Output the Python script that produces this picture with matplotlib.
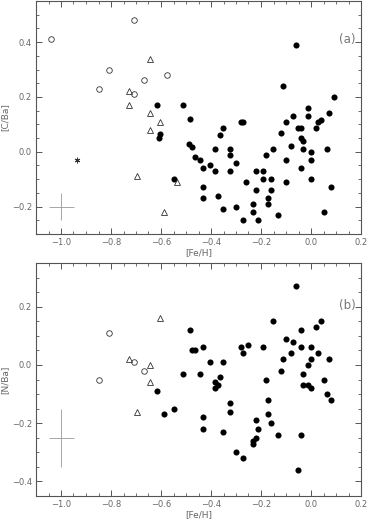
import matplotlib.pyplot as plt
from matplotlib.ticker import MultipleLocator

# panel (a): [C/Ba] vs [Fe/H]
# filled circles
fe_a_fill = [-0.618, -0.514, -0.61, -0.605, -0.548,
             -0.485, -0.354, -0.281, -0.272, -0.112, -0.061, 0.091, -0.012, -0.072, -0.012,
             -0.101, 0.071, 0.028, 0.039, -0.052, -0.041, 0.019,
             -0.365, -0.488, -0.476, -0.121, -0.042, -0.032, -0.081, 0.062, -0.385, -0.324,
             -0.152, -0.032, -0.465, -0.445, -0.324, -0.182, 0.0, 0.0, -0.101, -0.302,
             -0.404, -0.434, -0.385, -0.324, -0.222, -0.192, -0.041, -0.192, -0.161, 0.0,
             -0.262, -0.101, -0.434, 0.079, -0.222, -0.161, -0.374, -0.434, -0.172, -0.172,
             -0.232, -0.302, -0.354, -0.232, 0.051, -0.132, -0.272, -0.212]
cba_fill = [0.17, 0.17, 0.05, 0.065, -0.10,
            0.12, 0.088, 0.11, 0.11, 0.24, 0.39, 0.20, 0.16, 0.13, 0.13,
            0.11, 0.14, 0.11, 0.117, 0.088, 0.088, 0.088,
            0.06, 0.028, 0.019, 0.07, 0.05, 0.04, 0.02, 0.01, 0.01, 0.01,
            0.01, 0.01, -0.02, -0.03, -0.01, -0.01, 0.0, -0.03, -0.03, -0.04,
            -0.05, -0.06, -0.07, -0.07, -0.07, -0.07, -0.06, -0.10, -0.10, -0.10,
            -0.11, -0.11, -0.13, -0.13, -0.14, -0.14, -0.16, -0.17, -0.17, -0.19,
            -0.19, -0.20, -0.21, -0.22, -0.22, -0.23, -0.25, -0.25]
# open circles
fe_a_circ = [-1.042, -0.708, -0.809, -0.849, -0.668, -0.576, -0.708]
cba_circ = [0.41, 0.48, 0.30, 0.23, 0.26, 0.28, 0.21]
# open triangles
fe_a_tri = [-0.645, -0.728, -0.728, -0.645, -0.605, -0.645, -0.698, -0.588, -0.536]
cba_tri = [0.34, 0.22, 0.17, 0.14, 0.11, 0.08, -0.09, -0.22, -0.11]
# the single star
fe_a_star = [-0.938]
cba_star = [-0.03]

# panel (b): [N/Ba] vs [Fe/H]
fe_b_fill = [-0.514, -0.618, -0.588, -0.548,
             -0.061, -0.485, -0.152, 0.039, 0.019, -0.041, -0.101, -0.072, -0.476, -0.465,
             -0.434, -0.281, -0.252, -0.272, -0.192, -0.041, 0.0, -0.081, 0.028, -0.112,
             0.0, 0.071, -0.405, -0.354, -0.012, -0.445, -0.122, -0.032, -0.365, -0.182,
             0.051, -0.385, -0.374, -0.385, -0.032, -0.012, 0.0,
             0.062, 0.079, -0.172, -0.324, -0.434, -0.324, -0.172, -0.222, -0.434, -0.354,
             -0.212, -0.161, -0.132, -0.041, -0.222, -0.232, -0.232, -0.302, -0.272, -0.052]
nba_fill = [-0.03, -0.09, -0.17, -0.15,
            0.27, 0.12, 0.15, 0.15, 0.13, 0.12, 0.09, 0.08, 0.05, 0.05,
            0.06, 0.06, 0.07, 0.04, 0.06, 0.06, 0.06, 0.04, 0.04, 0.02,
            0.02, 0.02, 0.01, 0.01, 0.0, -0.03, -0.02, -0.03, -0.04, -0.05,
            -0.05, -0.06, -0.07, -0.08, -0.07, -0.07, -0.08,
            -0.10, -0.12, -0.12, -0.13, -0.18, -0.16, -0.17, -0.19, -0.22, -0.23,
            -0.22, -0.20, -0.24, -0.24, -0.25, -0.26, -0.27, -0.30, -0.32, -0.36]
fe_b_circ = [-0.809, -0.708, -0.668, -0.849]
nba_circ = [0.11, 0.01, -0.02, -0.05]
fe_b_tri = [-0.605, -0.728, -0.645, -0.645, -0.698]
nba_tri = [0.16, 0.02, 0.0, -0.06, -0.16]

grey = '#555555'
plt.rcParams['font.family'] = 'DejaVu Sans'

fig = plt.figure(figsize=(3.7, 5.2), dpi=100)
ax1 = fig.add_axes([36/370, 1 - 234/520, 325/370, 233/520])
ax2 = fig.add_axes([36/370, 1 - 496/520, 325/370, 233/520])


def style_axis(ax, ylim, ylabel):
    ax.set_xlim(-1.1, 0.2)
    ax.set_ylim(*ylim)
    ax.xaxis.set_major_locator(MultipleLocator(0.2))
    ax.xaxis.set_minor_locator(MultipleLocator(0.05))
    ax.yaxis.set_major_locator(MultipleLocator(0.2))
    ax.yaxis.set_minor_locator(MultipleLocator(0.05))
    ax.tick_params(which='both', direction='in', top=True, right=True,
                   color=grey, labelcolor='#666666', labelsize=6, pad=3)
    ax.tick_params(which='major', length=4, width=0.7)
    ax.tick_params(which='minor', length=2, width=0.6)
    for s in ax.spines.values():
        s.set_color(grey)
        s.set_linewidth(0.8)
    ax.set_xlabel('[Fe/H]', fontsize=6.5, color='#666666', labelpad=1)
    ax.set_ylabel(ylabel, fontsize=6.5, color='#666666', labelpad=2)


# panel (a)
style_axis(ax1, (-0.3, 0.55), '[C/Ba]')
ax1.plot(fe_a_fill, cba_fill, 'o', color='black', markersize=4.4, mew=0, linestyle='none')
ax1.plot(fe_a_circ, cba_circ, 'o', mfc='none', mec='#333333', mew=0.6,
         markersize=4.0, linestyle='none')
ax1.plot(fe_a_tri, cba_tri, '^', mfc='none', mec='#333333', mew=0.6,
         markersize=4.3, linestyle='none')
ax1.plot(fe_a_star, cba_star, marker=(6, 2, 0), color='#333333', mew=0.7,
         markersize=4.0, linestyle='none')
# typical error bars
ax1.errorbar([-1.0], [-0.2], xerr=0.05, yerr=0.05, color='#999999', lw=0.6, capsize=0)
ax1.text(0.147, 0.41, '(a)', fontsize=8.5, color='#777777', ha='center', va='center')

# panel (b)
style_axis(ax2, (-0.45, 0.35), '[N/Ba]')
ax2.plot(fe_b_fill, nba_fill, 'o', color='black', markersize=4.4, mew=0, linestyle='none')
ax2.plot(fe_b_circ, nba_circ, 'o', mfc='none', mec='#333333', mew=0.6,
         markersize=4.0, linestyle='none')
ax2.plot(fe_b_tri, nba_tri, '^', mfc='none', mec='#333333', mew=0.6,
         markersize=4.3, linestyle='none')
ax2.errorbar([-1.0], [-0.25], xerr=0.05, yerr=0.1, color='#999999', lw=0.6, capsize=0)
ax2.text(0.147, 0.203, '(b)', fontsize=8.5, color='#777777', ha='center', va='center')

plt.savefig('out.png', dpi=100)
